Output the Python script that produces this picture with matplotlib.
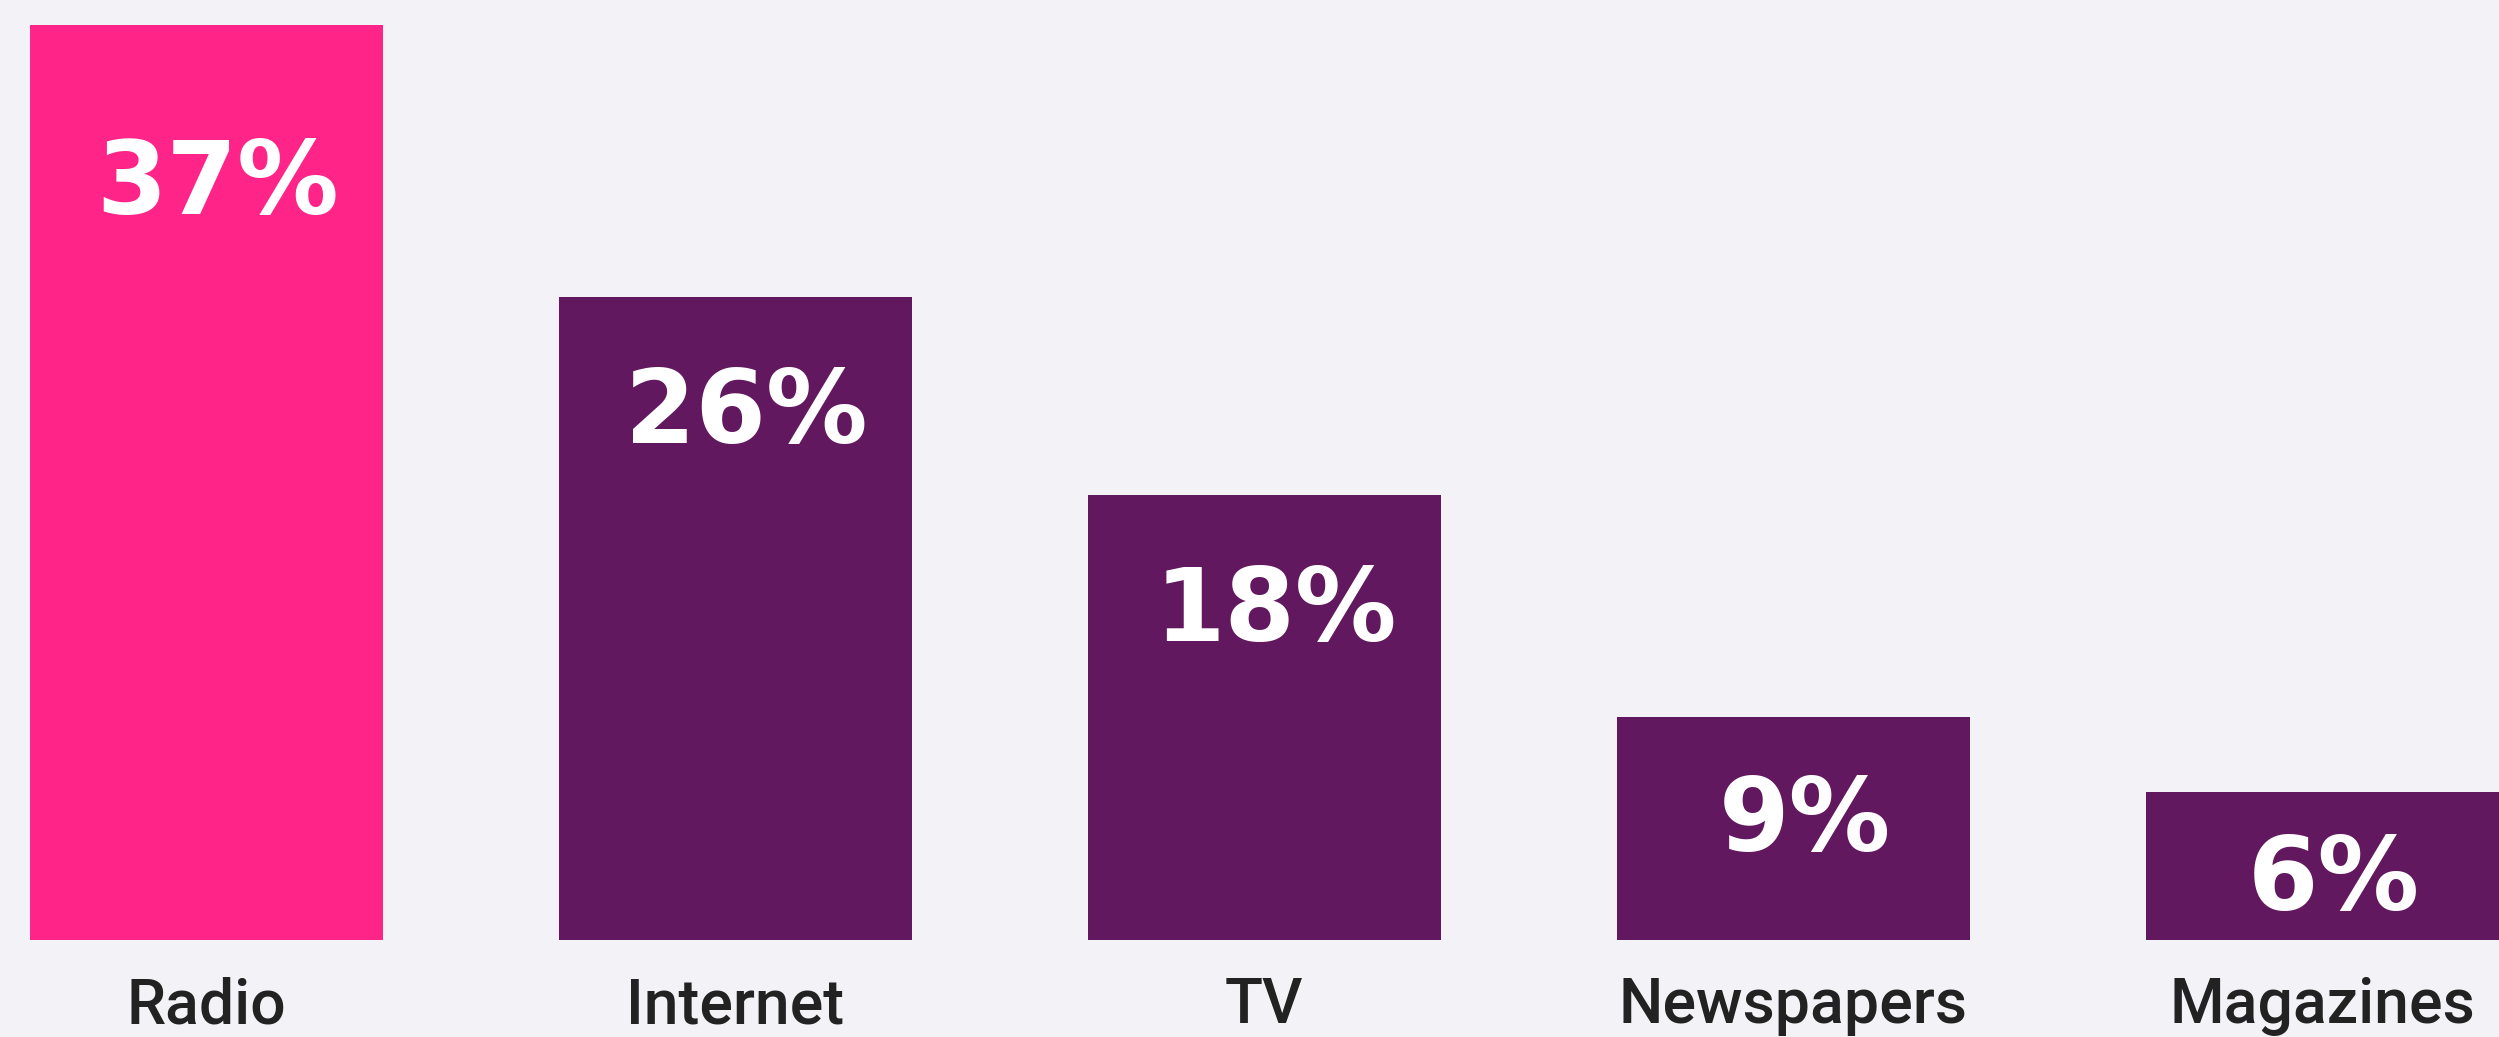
import matplotlib.pyplot as plt

# Share of respondents by preferred media
media = ['Radio', 'Internet', 'TV', 'Newspapers', 'Magazines']
share = [37, 26, 18, 9, 6]

bar_colors = ['#FF2487', '#62185E', '#62185E', '#62185E', '#62185E']
label_drop = [116, 85, 85, 76, 65]  # points below the bar top for the value text

bg = '#F3F2F7'

fig = plt.figure(figsize=(24.99, 10.37), dpi=100, facecolor=bg)
ax = fig.add_axes([0, 0.0935, 1, 0.8825])
ax.set_facecolor(bg)

x = range(len(media))
ax.bar(x, share, width=0.667, color=bar_colors)

for i, v in enumerate(share):
    ax.annotate(f'{v}%', xy=(i, v), xytext=(8, -label_drop[i]),
                textcoords='offset points', ha='center', va='center',
                color='white', fontsize=73, fontweight='bold',
                family='DejaVu Sans')

ax.set_xlim(-0.39, 4.334)
ax.set_ylim(0, 37)

ax.set_xticks(list(x))
ax.set_xticklabels(media, fontsize=45, family='Roboto', fontweight='medium',
                   color='#222222')
ax.tick_params(axis='x', length=0, pad=26)
ax.set_yticks([])
for s in ax.spines.values():
    s.set_visible(False)

fig.savefig('out.png', facecolor=bg)
